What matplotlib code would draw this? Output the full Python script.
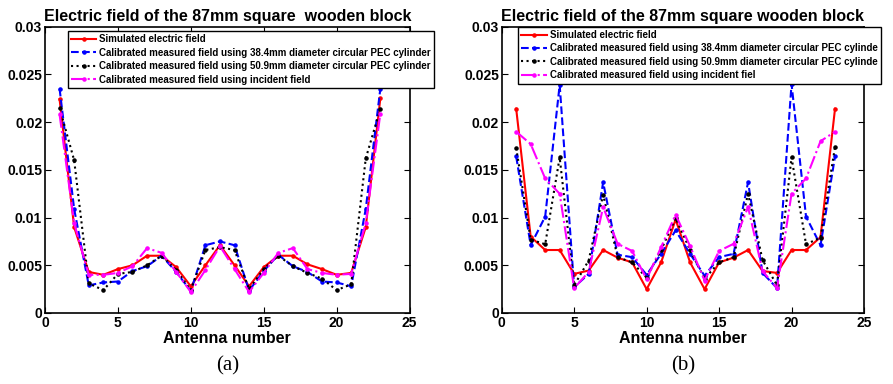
import matplotlib
matplotlib.use("Agg")
import matplotlib.pyplot as plt

plt.rcParams['font.family'] = ['Liberation Sans', 'DejaVu Sans']
plt.rcParams['font.weight'] = 'bold'

antenna = list(range(1, 24))

# (a) values, in units of 1e-3
sim_a = [22.4, 9.0, 4.3, 4.0, 4.6, 5.0, 6.0, 6.0, 4.8, 2.8, 5.0, 7.1,
         5.0, 2.8, 4.8, 6.0, 6.0, 5.1, 4.6, 4.0, 4.2, 9.0, 22.5]
cyl38_a = [23.5, 10.9, 2.9, 3.2, 3.3, 4.4, 4.9, 6.0, 4.3, 2.3, 7.1, 7.5,
           7.1, 2.35, 4.4, 6.1, 4.9, 4.3, 3.3, 3.2, 2.8, 10.9, 23.5]
cyl50_a = [21.5, 16.0, 3.1, 2.4, 4.1, 4.3, 5.0, 6.0, 4.5, 2.4, 6.6, 6.9,
           6.6, 2.5, 4.6, 6.0, 4.9, 4.2, 3.6, 2.4, 3.0, 16.2, 21.4]
inc_a = [20.8, 9.4, 4.0, 4.0, 4.2, 4.9, 6.8, 6.3, 4.3, 2.2, 4.5, 7.0,
         4.6, 2.2, 4.2, 6.3, 6.8, 4.6, 4.2, 4.0, 4.1, 9.4, 20.9]

# (b) values, in units of 1e-3
sim_b = [21.4, 8.0, 6.6, 6.6, 4.1, 4.45, 6.6, 5.8, 5.3, 2.5, 5.3, 9.8,
         5.3, 2.5, 5.3, 5.8, 6.6, 4.4, 4.2, 6.6, 6.6, 7.95, 21.4]
cyl38_b = [16.4, 7.1, 10.1, 23.9, 2.7, 4.1, 13.7, 6.1, 5.85, 4.0, 6.2, 8.65,
           6.2, 3.9, 5.85, 6.2, 13.7, 4.2, 2.6, 24.0, 10.1, 7.1, 16.4]
cyl50_b = [17.3, 7.7, 7.2, 16.3, 2.9, 5.5, 12.4, 5.85, 5.3, 3.7, 6.6, 9.95,
           6.6, 3.6, 5.3, 5.85, 12.5, 5.55, 2.9, 16.3, 7.2, 7.9, 17.4]
inc_b = [19.0, 17.7, 14.1, 12.5, 2.6, 4.3, 11.1, 7.25, 6.5, 3.55, 6.9, 10.3,
         7.0, 3.4, 6.5, 7.25, 11.1, 4.4, 2.6, 12.5, 14.1, 18.0, 19.0]

labels_a = ['Simulated electric field',
            'Calibrated measured field using 38.4mm diameter circular PEC cylinder',
            'Calibrated measured field using 50.9mm diameter circular PEC cylinder',
            'Calibrated measured field using incident field']
labels_b = ['Simulated electric field',
            'Calibrated measured field using 38.4mm diameter circular PEC cylinde',
            'Calibrated measured field using 50.9mm diameter circular PEC cylinde',
            'Calibrated measured field using incident fiel']

titles = ['Electric field of the 87mm square  wooden block',
          'Electric field of the 87mm square wooden block']
panel_tags = ['(a)', '(b)']

styles = [dict(color='red', linestyle='-', lw=1.5),
          dict(color='blue', linestyle='--', lw=1.5),
          dict(color='black', linestyle=':', lw=1.5),
          dict(color='magenta', linestyle='-.', lw=1.5)]

W, H = 893, 384
fig = plt.figure(figsize=(W / 100, H / 100), dpi=100)

boxes = [(45, 409.5), (501.7, 864)]
top_px, bot_px = 26.7, 313.0
panels = [(sim_a, cyl38_a, cyl50_a, inc_a), (sim_b, cyl38_b, cyl50_b, inc_b)]
# upper-left corner of each legend box, in figure pixels
legend_corners = [(67.7, 31.0), (518.0, 26.5)]
all_labels = [labels_a, labels_b]

for i, (x0, x1) in enumerate(boxes):
    ax = fig.add_axes([x0 / W, (H - bot_px) / H, (x1 - x0) / W, (bot_px - top_px) / H])
    for series, st, lab in zip(panels[i], styles, all_labels[i]):
        ax.plot(antenna, [v * 1e-3 for v in series], marker='.', markersize=4.5,
                label=lab, **st)
    ax.set_xlim(0, 25)
    ax.set_ylim(0, 0.03)
    ax.set_xticks([0, 5, 10, 15, 20, 25])
    ax.set_yticks([0, 0.005, 0.01, 0.015, 0.02, 0.025, 0.03])
    ax.set_yticklabels(['0', '0.005', '0.01', '0.015', '0.02', '0.025', '0.03'])
    ax.tick_params(direction='in', top=True, right=True, length=4, width=0.8,
                   labelsize=10, pad=2)
    for sp in ax.spines.values():
        sp.set_linewidth(1.2)
    ax.set_title(titles[i], fontsize=11.5, fontweight='bold', pad=4)
    ax.set_xlabel('Antenna number', fontsize=11.5, fontweight='bold', labelpad=1)
    lx, ly = legend_corners[i]
    leg = ax.legend(loc='upper left', bbox_to_anchor=(lx / W, 1 - ly / H),
                    bbox_transform=fig.transFigure,
                    borderaxespad=0, fancybox=False, framealpha=1,
                    edgecolor='black', handlelength=2.6, handletextpad=0.3,
                    labelspacing=0.35, borderpad=0.35,
                    prop={'family': ['Liberation Sans Narrow', 'Liberation Sans'],
                          'weight': 'bold', 'size': 7.0})
    leg.get_frame().set_linewidth(1.0)
    fig.text((x0 + x1) / 2 / W, 1 - 366 / H, panel_tags[i], ha='center', va='center',
             fontsize=15, fontweight='normal', family='Liberation Serif')

fig.savefig('out.png', dpi=100)
